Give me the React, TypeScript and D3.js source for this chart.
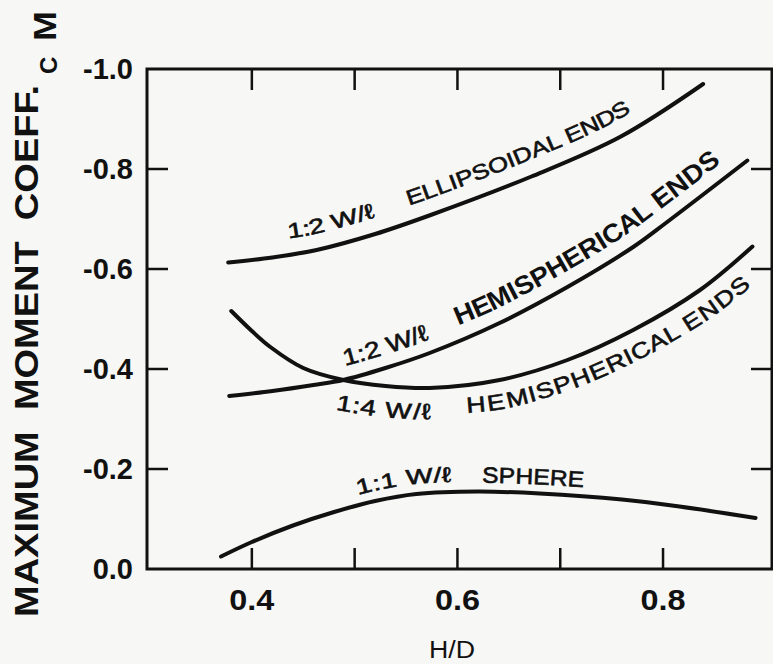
import React from "react";
import * as d3 from "d3";

// ---- data ----
const hdEllipsoid = [0.377, 0.42, 0.463, 0.52, 0.574, 0.672, 0.759, 0.839];
const cmEllipsoid = [-0.613, -0.623, -0.638, -0.67, -0.708, -0.785, -0.865, -0.97];

const hdHemi2 = [0.378, 0.42, 0.46, 0.489, 0.53, 0.573, 0.641, 0.707, 0.771, 0.804, 0.882];
const cmHemi2 = [-0.346, -0.356, -0.368, -0.378, -0.402, -0.432, -0.492, -0.564, -0.644, -0.694, -0.817];

const hdHemi4 = [0.38, 0.4, 0.418, 0.45, 0.489, 0.53, 0.573, 0.641, 0.707, 0.771, 0.836, 0.887];
const cmHemi4 = [-0.516, -0.476, -0.444, -0.402, -0.378, -0.366, -0.362, -0.378, -0.418, -0.478, -0.558, -0.645];

const hdSphere = [0.37, 0.4, 0.44, 0.48, 0.52, 0.56, 0.62, 0.68, 0.76, 0.816, 0.89];
const cmSphere = [-0.025, -0.054, -0.087, -0.114, -0.136, -0.15, -0.155, -0.151, -0.139, -0.125, -0.102];

const xTicks = [0.4, 0.5, 0.6, 0.7, 0.8];
const xLabelValues = [0.4, 0.6, 0.8];
const xTickLabels = ["0.4", "0.6", "0.8"];
const yTicks = [-0.2, -0.4, -0.6, -0.8];
const yLabelValues = [-1.0, -0.8, -0.6, -0.4, -0.2, 0.0];
const yTickLabels = ["-1.0", "-0.8", "-0.6", "-0.4", "-0.2", "0.0"];

// curve labels: [text, series index, start H/D, perpendicular offset, length, font size, bold]
const curveLabels: [string, number, number, number, number, number, boolean][] = [
  ["1:2 W/\u2113", 0, 0.438, -16, 92, 21, false],
  ["ELLIPSOIDAL ENDS", 0, 0.558, -16, 245, 21, false],
  ["1:2 W/\u2113", 1, 0.494, -13, 90, 23, false],
  ["HEMISPHERICAL ENDS", 1, 0.606, -14, 314, 26, true],
  ["1:4 W/\u2113", 2, 0.4866, 31, 90, 22, false],
  ["HEMISPHERICAL ENDS", 2, 0.607, 29, 298, 22, false],
  ["1:1 W/\u2113", 3, 0.506, -10, 92, 21, false],
  ["SPHERE", 3, 0.624, -9, 101, 22, false],
];

const W = 773;
const H = 664;
const FONT = "'Liberation Sans', Arial, Helvetica, sans-serif";
const INK = "#111";

export default function App() {
  const x = d3.scaleLinear().domain([0.298, 0.906]).range([147, 772]);
  const y = d3.scaleLinear().domain([0, -1]).range([569, 69]);

  const line = d3
    .line<[number, number]>()
    .x((d) => x(d[0]))
    .y((d) => y(d[1]))
    .curve(d3.curveCatmullRom.alpha(0.5));

  const hdSets = [hdEllipsoid, hdHemi2, hdHemi4, hdSphere];
  const cmSets = [cmEllipsoid, cmHemi2, cmHemi4, cmSphere];
  const series = hdSets.map((hs, i) => d3.zip(hs, cmSets[i]) as [number, number][]);

  const labelPaths = curveLabels.map(([, si, start]) => {
    const hs = hdSets[si];
    const cs = cmSets[si];
    const interp = d3.scaleLinear().domain(hs).range(cs);
    const pts: [number, number][] = [[start, interp(start)]];
    hs.forEach((h, k) => {
      if (h > start + 0.01) pts.push([h, cs[k]]);
    });
    return line(pts) || "";
  });

  const [x0, x1] = x.range();
  const [y0, y1] = y.range();

  return (
    <svg
      width={W}
      height={H}
      style={{ position: "absolute", left: 0, top: 0, background: "#f7f7f5" }}
      fontFamily={FONT}
    >
      <rect x={0} y={0} width={W} height={H} fill="#f7f7f5" />
      <defs>
        {labelPaths.map((d, i) => (
          <path key={"lp" + i} id={"lblpath" + i} d={d} fill="none" />
        ))}
      </defs>
      {/* frame */}
      <rect x={x0} y={y1} width={x1 - x0} height={y0 - y1} fill="none" stroke={INK} strokeWidth={3} />
      {/* x ticks, top and bottom */}
      {xTicks.map((t) => (
        <g key={"xt" + t}>
          <line x1={x(t)} x2={x(t)} y1={y0} y2={y0 - 21} stroke={INK} strokeWidth={2.5} />
          <line x1={x(t)} x2={x(t)} y1={y1} y2={y1 + 21} stroke={INK} strokeWidth={2.5} />
        </g>
      ))}
      {/* y ticks, left and right */}
      {yTicks.map((t) => (
        <g key={"yt" + t}>
          <line x1={x0} x2={x0 + 21} y1={y(t)} y2={y(t)} stroke={INK} strokeWidth={2.5} />
          <line x1={x1} x2={x1 - 21} y1={y(t)} y2={y(t)} stroke={INK} strokeWidth={2.5} />
        </g>
      ))}
      {/* x tick labels */}
      {xLabelValues.map((v, i) => (
        <text
          key={"xl" + v}
          x={x(v)}
          y={610}
          textAnchor="middle"
          fontSize={30}
          fontWeight="bold"
          fill={INK}
          textLength={45}
          lengthAdjust="spacingAndGlyphs"
        >
          {xTickLabels[i]}
        </text>
      ))}
      {/* y tick labels */}
      {yLabelValues.map((v, i) => (
        <text
          key={"yl" + v}
          x={133}
          y={y(v) + 10}
          textAnchor="end"
          fontSize={29}
          fontWeight="bold"
          fill={INK}
        >
          {yTickLabels[i]}
        </text>
      ))}
      {/* axis titles */}
      <text
        x={452}
        y={658}
        textAnchor="middle"
        fontSize={23}
        fill={INK}
        textLength={46}
        lengthAdjust="spacingAndGlyphs"
      >
        H/D
      </text>
      <text
        transform="translate(38,617) rotate(-90)"
        fontSize={34}
        fontWeight="bold"
        fill={INK}
        textLength={532}
        lengthAdjust="spacingAndGlyphs"
        style={{ whiteSpace: "pre" }}
      >
        MAXIMUM  MOMENT  COEFF.
      </text>
      <text transform="translate(57,74) rotate(-90)" fontSize={24} fontWeight="bold" fill={INK}>
        C
      </text>
      <text
        transform="translate(56,41) rotate(-90)"
        fontSize={32}
        fontWeight="bold"
        fill={INK}
        textLength={30}
        lengthAdjust="spacingAndGlyphs"
      >
        M
      </text>
      {/* curves */}
      {series.map((s, i) => (
        <path
          key={"s" + i}
          d={line(s) || ""}
          fill="none"
          stroke={INK}
          strokeWidth={4}
          strokeLinecap="round"
        />
      ))}
      {/* curve labels following their curves */}
      {curveLabels.map(([txt, , , off, len, fs, bold], i) => (
        <text
          key={"a" + i}
          fontSize={fs}
          fontWeight={bold ? "bold" : "normal"}
          fill={INK}
          stroke={bold ? "none" : INK}
          strokeWidth={bold ? 0 : 0.6}
          dy={off}
          style={{ whiteSpace: "pre" }}
        >
          <textPath href={"#lblpath" + i} textLength={len} lengthAdjust="spacingAndGlyphs">
            {txt}
          </textPath>
        </text>
      ))}
    </svg>
  );
}
